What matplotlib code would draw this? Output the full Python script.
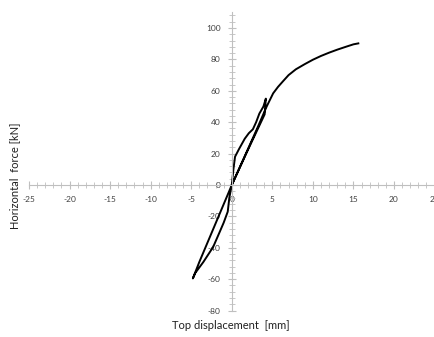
import matplotlib
matplotlib.use("Agg")
import matplotlib.pyplot as plt
import matplotlib.ticker as ticker

plt.rcParams["font.family"] = ["Lato", "DejaVu Sans"]

# hysteresis path: first cycle, unloading, reversal and monotonic envelope
disp = [0, 0.2, 0.4, 0.9, 1.6, 2.1, 2.6, 3.0, 3.4, 3.9, 4.2, 4.05,
        2.0, 0, -2.0, -4.0, -4.8,
        -4.5, -3.5, -2.3, -1.5, -1.0, -0.5, -0.3, 0,
        1.0, 2.0, 3.0, 4.3, 5.1, 5.7, 6.3, 7.0, 7.9, 9.0, 10.0, 11.0,
        12.0, 13.0, 14.1, 15.0, 15.6]
force = [0, 10, 18, 23, 29.5, 33, 35.5, 40, 45.5, 50, 55, 45,
         22.5, 0, -24.5, -49, -59.5,
         -56, -49, -39.5, -30, -24, -17, -8, 0,
         11.5, 23, 34.5, 50, 58.4, 62.5, 66, 70, 73.7, 77, 79.8, 82.2,
         84.3, 86.2, 88.1, 89.6, 90.2]

x_major = 5
y_major = 20
y_labels = [-80, -60, -40, -20, 0, 20, 40, 60, 80, 100]

fig = plt.figure(figsize=(4.35, 3.37), dpi=100)
ax = fig.add_axes([0.0667, 0.0783, 0.9323, 0.8852])
ax.plot(disp, force, color="black", lw=1.4)

ax.set_xlim(-25, 25)
ax.set_ylim(-80, 110)

for s in ["top", "right"]:
    ax.spines[s].set_visible(False)
ax.spines["left"].set_position(("data", 0))
ax.spines["bottom"].set_position(("data", 0))
for s in ["left", "bottom"]:
    ax.spines[s].set_color("#bfbfbf")
    ax.spines[s].set_linewidth(0.8)

ax.xaxis.set_major_locator(ticker.MultipleLocator(x_major))
ax.xaxis.set_minor_locator(ticker.MultipleLocator(1))
ax.yaxis.set_major_locator(ticker.FixedLocator(y_labels))
ax.yaxis.set_minor_locator(ticker.MultipleLocator(4))
ax.tick_params(which="major", direction="inout", length=6, width=0.8,
               color="#bfbfbf", labelsize=6, labelcolor="#404040", pad=5)
ax.tick_params(which="minor", direction="inout", length=4, width=0.6,
               color="#bfbfbf")
ax.xaxis.set_major_formatter(ticker.FormatStrFormatter("%d"))
ax.yaxis.set_major_formatter(ticker.FormatStrFormatter("%d"))
for lab in ax.get_xticklabels():
    lab.set_clip_on(False)

fig.text(0.034, 0.478, "Horizontal  force [kN]", rotation=90,
         ha="center", va="center", fontsize=8, color="#202020")
fig.text(0.53, 0.033, "Top displacement  [mm]", ha="center", va="center",
         fontsize=8, color="#202020")

fig.savefig("out.png", dpi=100)
